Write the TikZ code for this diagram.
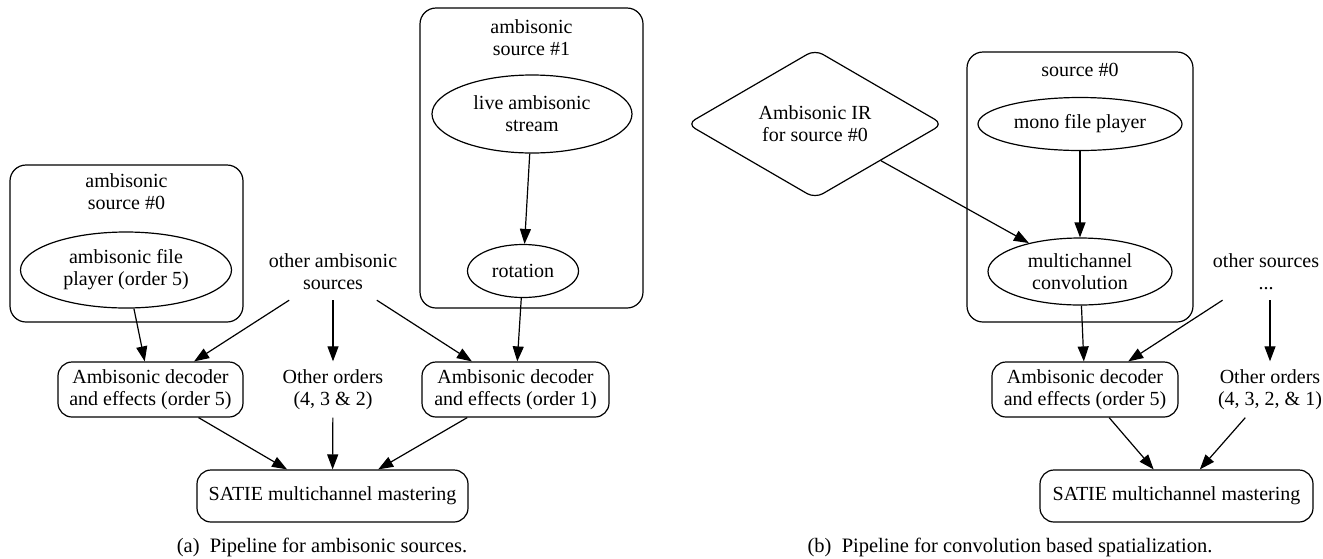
\documentclass[tikz,border=0pt]{standalone}
\usepackage{fontspec}
\setmainfont{Liberation Serif}
\newfontfamily\tmsfont{Liberation Serif}
\usetikzlibrary{shapes.geometric,arrows.meta}
\begin{document}
\begin{tikzpicture}[x=1pt,y=-1pt,
  every node/.style={font=\tmsfont\fontsize{20}{22}\selectfont, align=center, inner sep=0pt},
  ln/.style={line width=1.2pt},
  ell/.style={ellipse, draw, ln},
  rbox/.style={rectangle, rounded corners=14pt, draw, ln},
  clus/.style={rectangle, rounded corners=16pt, draw, ln},
  plain/.style={rectangle},
  arr/.style={ln, -{Triangle[length=15pt,width=11pt]}},
  captxt/.style={font=\tmsfont\fontsize{20.5}{24}\selectfont}
]
\useasboundingbox (0,0) rectangle (1323,558);
% clusters
\node[clus, minimum width=233pt, minimum height=157pt] (c0) at (126.5,243.5) {};
\node (c0l) at (126.5,192) {ambisonic\\source \#0};
\node[clus, minimum width=223pt, minimum height=300pt] (c1) at (531.5,158) {};
\node (c1l) at (531.5,38) {ambisonic\\source \#1};
\node[clus, minimum width=226pt, minimum height=270pt] (c2) at (1080,187) {};
\node (c2l) at (1080,70) {source \#0};
% left graph
\node[ell, minimum width=211pt, minimum height=76pt] (filep) at (126,270) {ambisonic file\\player (order 5)};
\node[ell, minimum width=200pt, minimum height=78pt] (live) at (532,114) {live ambisonic\\stream};
\node[ell, minimum width=111pt, minimum height=53pt] (rot) at (523,271) {rotation};
\node[plain, minimum width=150pt, minimum height=56pt] (oas) at (333,272) {other ambisonic\\sources};
\node[rbox, minimum width=185pt, minimum height=55pt] (deca) at (150.5,389.5) {Ambisonic decoder\\and effects (order 5)};
\node[plain, minimum width=140pt, minimum height=56pt] (ooa) at (333,389.5) {Other orders\\(4, 3 \& 2)};
\node[rbox, minimum width=187pt, minimum height=55pt] (decb) at (515.5,389.5) {Ambisonic decoder\\and effects (order 1)};
\node[rbox, minimum width=271pt, minimum height=52pt] (sata) at (332.5,496) {SATIE multichannel mastering};
\node[captxt] (capa) at (322,547) {(a)\enspace Pipeline for ambisonic sources.};
\draw[arr] (filep) -- (deca);
\draw[arr] (oas) -- (deca);
\draw[arr] (oas) -- (ooa);
\draw[arr] (oas) -- (decb);
\draw[arr] (live) -- (rot);
\draw[arr] (rot) -- (decb);
\draw[arr] (deca) -- (sata);
\draw[arr] (ooa) -- (sata);
\draw[arr] (decb) -- (sata);
% right graph
\node[diamond, draw, ln, rounded corners=9pt, minimum width=256pt, minimum height=102pt] (ir) at (815,124) {Ambisonic IR\\for source \#0};
\node[ell, minimum width=204pt, minimum height=53pt] (mono) at (1080,124) {mono file player};
\node[ell, minimum width=184pt, minimum height=67pt] (conv) at (1080,271.5) {multichannel\\convolution};
\node[plain, minimum width=110pt, minimum height=56pt] (os) at (1266,272) {other sources\\...};
\node[rbox, minimum width=186pt, minimum height=55pt] (decc) at (1085,389.5) {Ambisonic decoder\\and effects (order 5)};
\node[plain, minimum width=110pt, minimum height=56pt] (oob) at (1270,389.5) {Other orders\\(4, 3, 2, \& 1)};
\node[rbox, minimum width=273pt, minimum height=52pt] (satb) at (1176.5,496) {SATIE multichannel mastering};
\node[captxt] (capb) at (1010,547) {(b)\enspace Pipeline for convolution based spatialization.};
\draw[arr] (ir) -- (conv);
\draw[arr] (mono) -- (conv);
\draw[arr] (conv) -- (decc);
\draw[arr] (os) -- (decc);
\draw[arr] (os.south -| oob) -- (oob.north);
\draw[arr] (decc) -- (satb);
\draw[arr] (oob) -- (satb);
\end{tikzpicture}
\end{document}
